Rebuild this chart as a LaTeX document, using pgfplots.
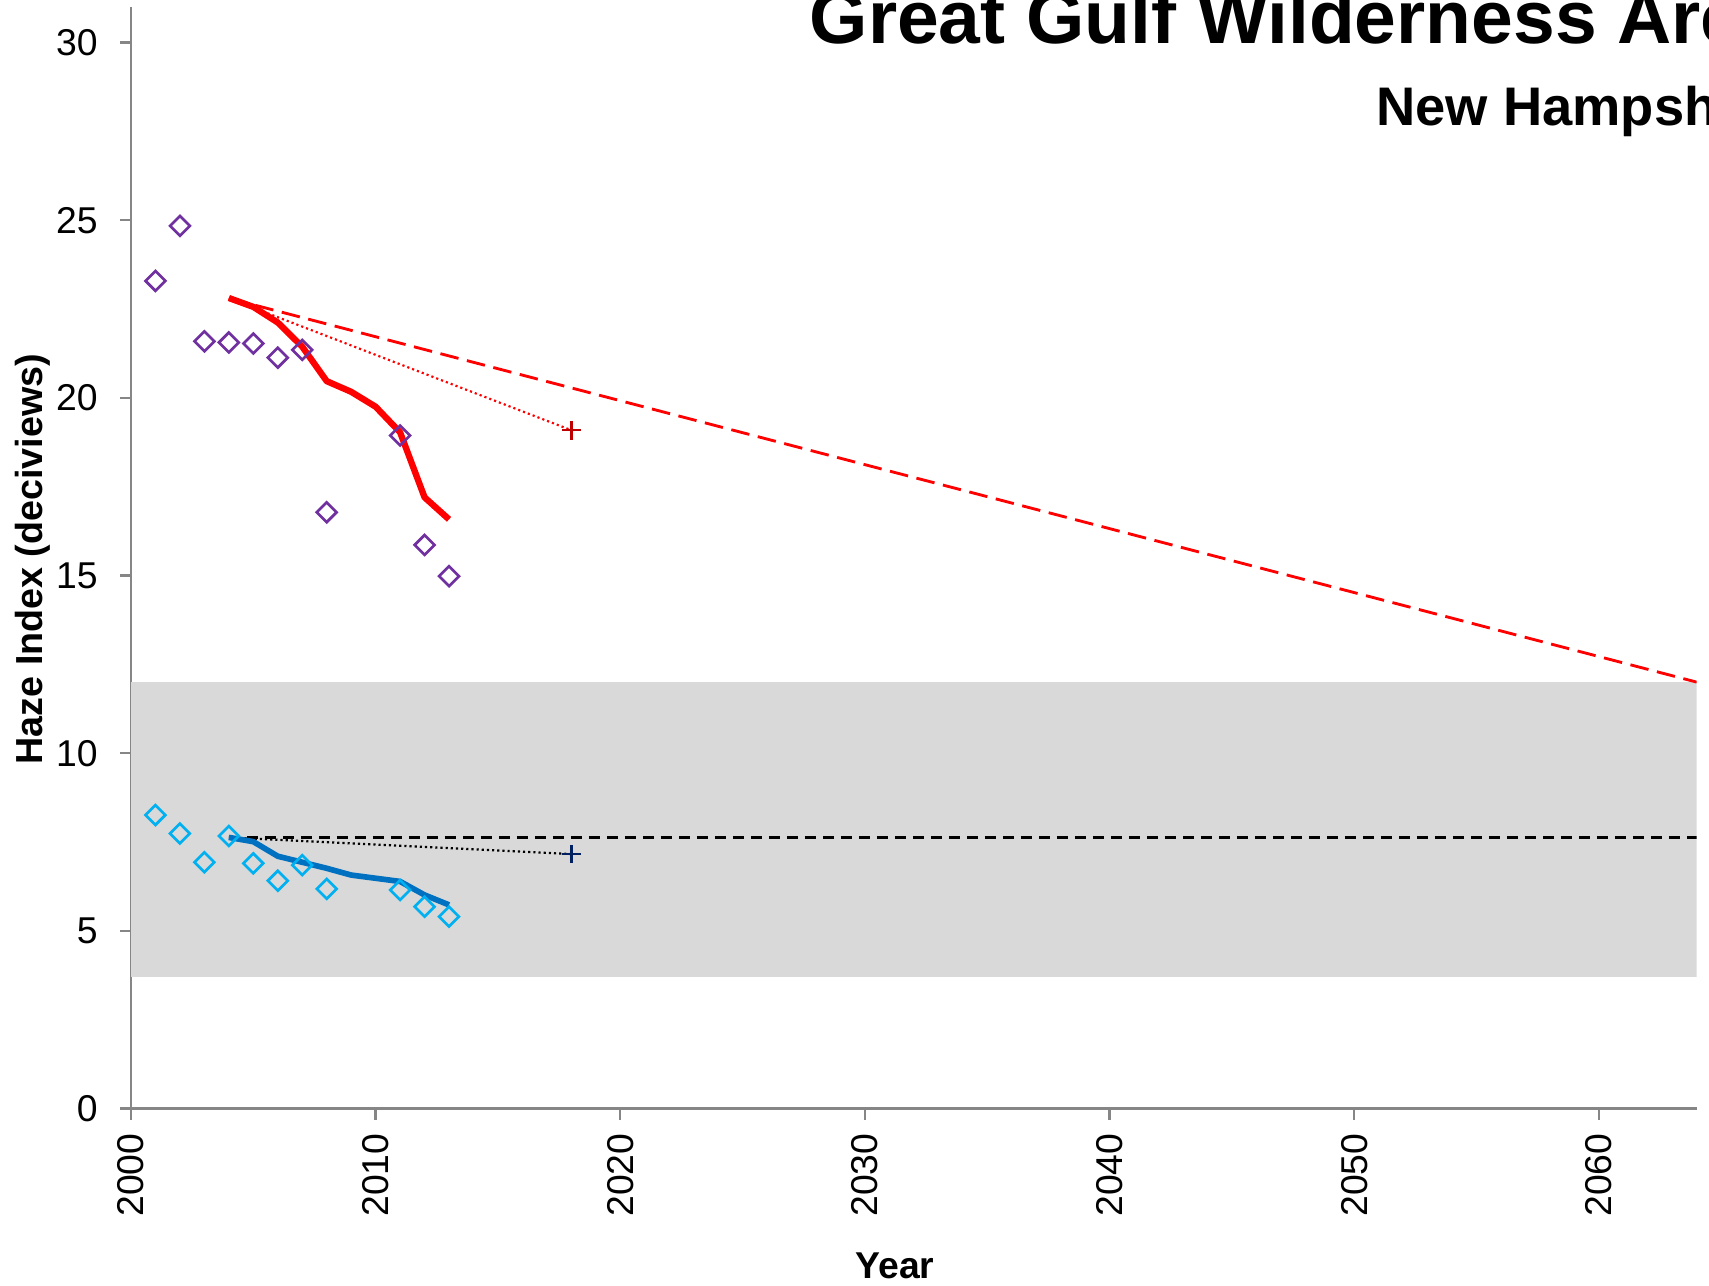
\documentclass[border=0pt]{standalone}
\usepackage{fontspec}
\setmainfont{Liberation Sans}
\usepackage{pgfplots}
\pgfplotsset{compat=1.18}
\definecolor{purp}{HTML}{7030A0}
\definecolor{cyanm}{HTML}{00B0F0}
\definecolor{blueline}{HTML}{0070C0}
\definecolor{band}{HTML}{D9D9D9}
\definecolor{axgray}{HTML}{868686}
\definecolor{darkred}{HTML}{C00000}
\definecolor{navy}{HTML}{002060}
\begin{document}
\begin{tikzpicture}
\begin{axis}[
  at={(0,0)}, anchor=south west,
  scale only axis, width=469.7pt, height=330.45pt,
  xmin=2000, xmax=2064, ymin=0, ymax=31,
  axis x line*=bottom, axis y line*=left,
  axis line style={axgray, line width=0.7pt},
  xtick={2000,2010,...,2060}, ytick={0,5,...,30},
  tick align=outside, major tick length=3.3pt,
  tick style={axgray, line width=0.7pt},
  x tick label style={rotate=90, anchor=east, inner sep=0pt, font=\fontsize{11.2}{13}\selectfont},
  y tick label style={anchor=east, inner sep=0pt, font=\fontsize{11.2}{13}\selectfont},
  xticklabel shift=4pt, yticklabel shift=6.5pt,
  /pgf/number format/assume math mode=true,
  /pgf/number format/1000 sep={},
]
% grey band
\addplot[draw=none, fill=band, forget plot] coordinates {(2000,3.7) (2064,3.7) (2064,12.0) (2000,12.0)} -- cycle;
% glide paths
\addplot[red, line width=0.85pt, dash pattern=on 5.6pt off 2.6pt] coordinates {(2004,22.8) (2064,12.0)};
\addplot[black, line width=0.7pt, dash pattern=on 3.3pt off 2.1pt] coordinates {(2004,7.63) (2064,7.63)};
% trend projections (dotted)
\addplot[red, line width=0.65pt, dash pattern=on 0.65pt off 0.9pt] coordinates {(2004,22.8) (2018,19.09)};
\addplot[black, line width=0.65pt, dash pattern=on 0.65pt off 0.9pt] coordinates {(2004,7.63) (2018,7.16)};
% 5-year averages
\addplot[red, line width=1.9pt, line join=round] coordinates {
 (2004,22.81) (2005,22.56) (2006,22.12) (2007,21.44) (2008,20.47) (2009,20.17) (2010,19.75) (2011,19.03) (2012,17.20) (2013,16.58)};
\addplot[blueline, line width=1.7pt, line join=round] coordinates {
 (2004,7.63) (2005,7.51) (2006,7.10) (2007,6.93) (2008,6.76) (2009,6.57) (2010,6.48) (2011,6.39) (2012,6.01) (2013,5.73)};
% annual values
\addplot[only marks, mark=square, mark size=2.1pt, mark options={rotate=45, draw=purp, fill=none, line width=0.8pt}] coordinates {
 (2001,23.29) (2002,24.84) (2003,21.59) (2004,21.56) (2005,21.53) (2006,21.13) (2007,21.35) (2008,16.78) (2011,18.94) (2012,15.86) (2013,14.98)};
\addplot[only marks, mark=square, mark size=2.1pt, mark options={rotate=45, draw=cyanm, fill=none, line width=0.8pt}] coordinates {
 (2001,8.26) (2002,7.74) (2003,6.93) (2004,7.67) (2005,6.90) (2006,6.41) (2007,6.85) (2008,6.18) (2011,6.15) (2012,5.68) (2013,5.40)};
% projected 2018 values
\addplot[only marks, mark=+, mark size=2.8pt, mark options={darkred, line width=0.75pt}] coordinates {(2018,19.09)};
\addplot[only marks, mark=+, mark size=2.8pt, mark options={navy, line width=0.75pt}] coordinates {(2018,7.16)};
\end{axis}
\node[anchor=base west, inner sep=0pt, font=\fontsize{22.5}{27}\selectfont\bfseries] at (203.4pt,319.6pt) {Great Gulf Wilderness Area};
\node[anchor=base west, inner sep=0pt, font=\fontsize{16.3}{19}\selectfont\bfseries] at (373.4pt,295.0pt) {New Hampshire};
\node[anchor=base, inner sep=0pt, font=\fontsize{11.2}{13}\selectfont\bfseries] at (229.2pt,-50.85pt) {Year};
\node[anchor=base, rotate=90, inner sep=0pt, font=\fontsize{11.3}{13}\selectfont\bfseries] at (-26.6pt,164.8pt) {Haze Index (deciviews)};
\pgfresetboundingbox
\path[use as bounding box] (-39.3pt,-52.95pt) rectangle (473.4pt,332.55pt);
\end{tikzpicture}
\end{document}
